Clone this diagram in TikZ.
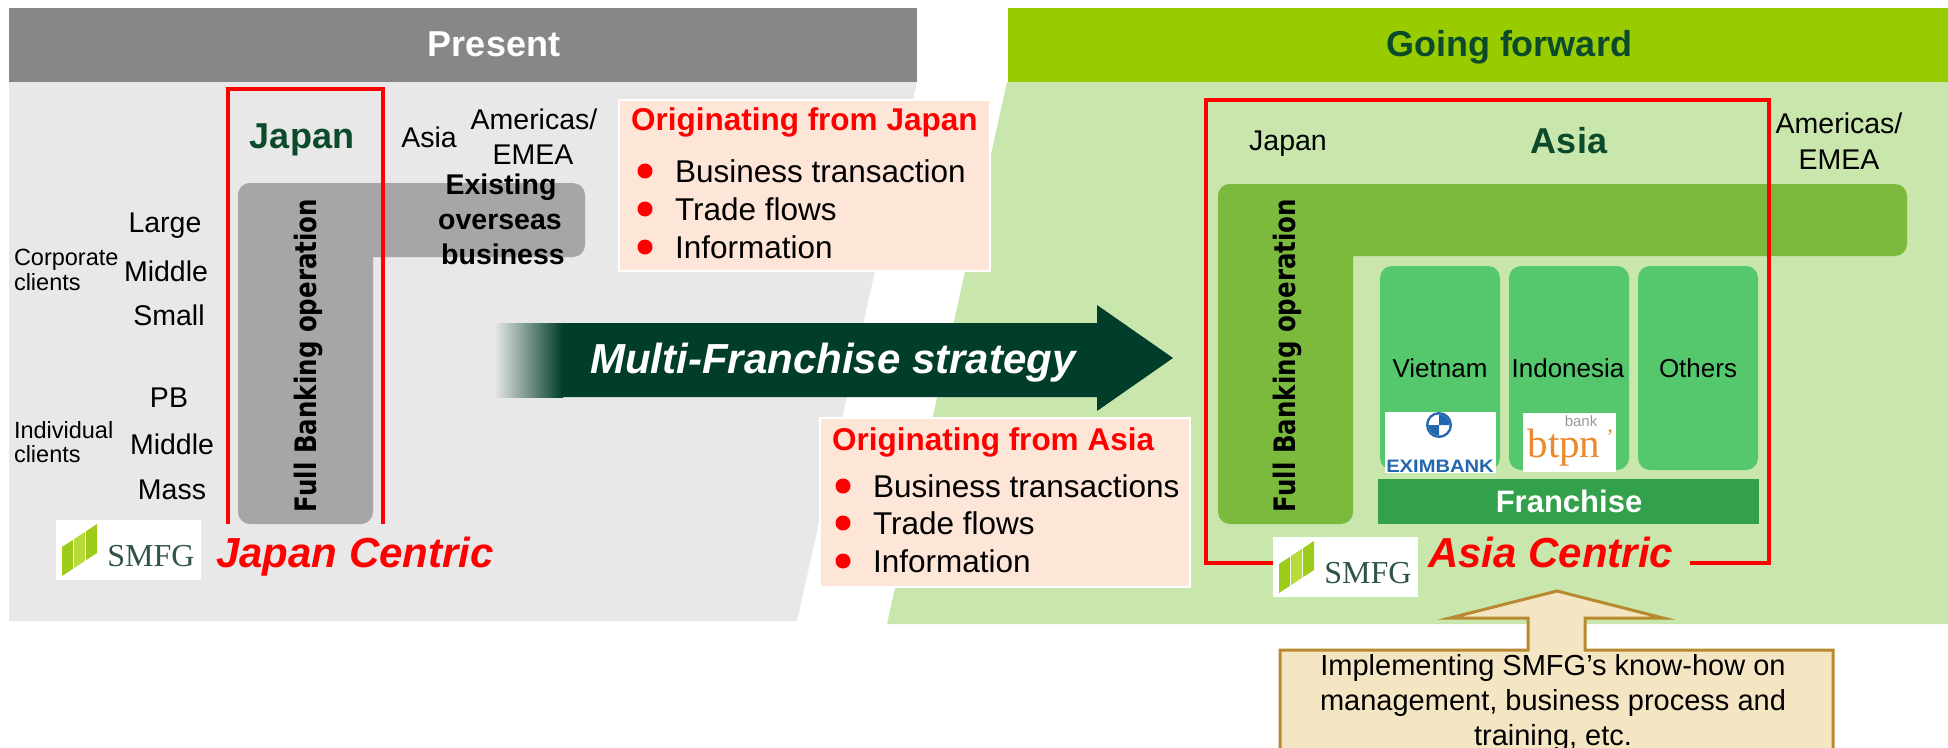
\documentclass[tikz,border=0pt]{standalone}
\usepackage{fontspec}
\setmainfont{Liberation Sans}
\newfontfamily\verdfont{DejaVu Sans}
\newfontfamily\timesfont{Liberation Serif}
\newcommand\setfs[1]{\fontsize{#1}{#1}\selectfont}
\definecolor{hdrgray}{HTML}{878787}
\definecolor{bodygray}{HTML}{E8E8E8}
\definecolor{lgray}{HTML}{A6A6A6}
\definecolor{hdrgreen}{HTML}{99CC00}
\definecolor{bodygreen}{HTML}{C9E6AD}
\definecolor{lgreen}{HTML}{7CBA3D}
\definecolor{cgreen}{HTML}{55C76C}
\definecolor{fgreen}{HTML}{33A04B}
\definecolor{dkgreen}{HTML}{003D2B}
\definecolor{txtgreen}{HTML}{0B4A2B}
\definecolor{peach}{HTML}{FDE5D7}
\definecolor{tanfill}{HTML}{F5E6C3}
\definecolor{tanborder}{HTML}{B8892E}
\definecolor{smfgA}{HTML}{9CCB19}
\definecolor{smfgB}{HTML}{B8DA3A}
\definecolor{smfgtext}{HTML}{2F5443}
\definecolor{exblue}{HTML}{2367AE}
\definecolor{btpnorange}{HTML}{E98A2E}
\newcommand\fbtxt{\resizebox{313pt}{\height}{Full Banking operation}}
\tikzset{
  every node/.style={inner sep=0pt, outer sep=0pt},
  reg/.style={font=\setfs{28.5}},
  boxtitle/.style={anchor=base west, text=red, font=\bfseries\setfs{31.5}},
  item/.style={anchor=base west, font=\setfs{31.5}},
  bul/.style={circle, fill=red, minimum size=15pt},
  peachbox/.style={draw=white, line width=2pt, fill=peach, anchor=north west},
  cbox/.style={fill=cgreen, rounded corners=12pt, anchor=north west, minimum width=120pt, minimum height=204pt},
  fbtext/.style={anchor=base west, rotate=90, font=\verdfont\bfseries\setfs{29.5}},
  centric/.style={anchor=base west, text=red, font=\bfseries\itshape\setfs{42}},
  redframe/.style={red, line width=3.5pt},
  smfglogo/.pic={
    \fill[white] (0,0) rectangle (145,60);
    \fill[smfgA] (6,27) -- (17,19.8) -- (17,48.8) -- (6,56) -- cycle;
    \fill[smfgB] (18,19.1) -- (29,11.9) -- (29,40.9) -- (18,48.1) -- cycle;
    \fill[smfgA] (30,11.2) -- (41,4) -- (41,33) -- (30,40.2) -- cycle;
    \node[anchor=base, text=smfgtext, font=\timesfont\setfs{32}] (-txt) at (95,46) {SMFG};
  }
}
\begin{document}
\begin{tikzpicture}[x=1pt,y=-1pt]
\useasboundingbox (0,0) rectangle (1948,747);
\fill[white] (0,0) rectangle (1948,747);

% ---------- panels ----------
\fill[hdrgray] (9,8) rectangle (917,82);
\fill[bodygray] (9,82) -- (917,82) -- (797,621) -- (9,621) -- cycle;
\fill[hdrgreen] (1008,8) rectangle (1948,82);
\fill[bodygreen] (1007,82) -- (1948,82) -- (1948,624) -- (887,624) -- cycle;

\node[anchor=base, text=white, font=\bfseries\setfs{36}] (present) at (494,56) {Present};
\node[anchor=base, text=txtgreen, font=\bfseries\setfs{36}] (going) at (1509,56) {Going forward};

% ---------- left: Japan centric ----------
\fill[lgray, rounded corners=12pt] (238,183) rectangle (373,524);
\fill[lgray, rounded corners=12pt] (238,183) rectangle (585,257);

\node[anchor=base, text=txtgreen, font=\bfseries\setfs{36}] (japanL) at (302,148) {Japan};
\node[anchor=base, reg] (asiaL) at (429,147) {Asia};
\node[anchor=base, reg] (amL) at (534,129) {Americas/};
\node[anchor=base, reg] (emeaL) at (533,164) {EMEA};
\node[anchor=base, font=\bfseries\setfs{28.5}] (ex1) at (501,194) {Existing};
\node[anchor=base, font=\bfseries\setfs{28.5}] (ex2) at (500,229) {overseas};
\node[anchor=base, font=\bfseries\setfs{28.5}] (ex3) at (503,264) {business};

\node[anchor=base, reg] (large) at (165,232) {Large};
\node[anchor=base, reg] (midC) at (166,281) {Middle};
\node[anchor=base, reg] (small) at (169,325) {Small};
\node[anchor=base, reg] (pb) at (169,407) {PB};
\node[anchor=base, reg] (midI) at (172,454) {Middle};
\node[anchor=base, reg] (mass) at (172,499) {Mass};
\node[anchor=base west, font=\setfs{23.5}] (corp1) at (14,265) {Corporate};
\node[anchor=base west, font=\setfs{23.5}] (corp2) at (14,290) {clients};
\node[anchor=base west, font=\setfs{23.5}] (ind1) at (14,438) {Individual};
\node[anchor=base west, font=\setfs{23.5}] (ind2) at (14,462) {clients};

\node[fbtext] (fbL) at (316.5,512) {\fbtxt};
\draw[redframe] (228,524) -- (228,89) -- (383,89) -- (383,524);

\pic (logoL) at (56,520) {smfglogo};
\node[centric] (jc) at (216,567) {Japan Centric};

% ---------- originating boxes ----------
\node[peachbox, minimum width=371pt, minimum height=171pt] (jbox) at (619,100) {};
\node[boxtitle] (jtitle) at (631,130) {Originating from Japan};
\node[bul] (jb1) at (645,171) {};
\node[bul] (jb2) at (645,209) {};
\node[bul] (jb3) at (645,247) {};
\node[item] (ji1) at (675,182) {Business transaction};
\node[item] (ji2) at (675,220) {Trade flows};
\node[item] (ji3) at (675,258) {Information};

\node[peachbox, minimum width=370pt, minimum height=169pt] (abox) at (820,418) {};
\node[boxtitle] (atitle) at (832,450) {Originating from Asia};
\node[bul] (ab1) at (843,486) {};
\node[bul] (ab2) at (843,523) {};
\node[bul] (ab3) at (843,561) {};
\node[item] (ai1) at (873,497) {Business transactions};
\node[item] (ai2) at (873,534) {Trade flows};
\node[item] (ai3) at (873,572) {Information};

% ---------- big arrow ----------
\shade[left color=bodygray, right color=dkgreen] (494,323) rectangle (563,397);
\fill[dkgreen] (562,323) -- (1097,323) -- (1097,305) -- (1173,358) -- (1097,411) -- (1097,397) -- (562,397) -- cycle;
\node[anchor=base, text=white, font=\bfseries\itshape\setfs{42}] (mfs) at (833,373) {Multi-Franchise strategy};

% ---------- right: Asia centric ----------
\fill[lgreen, rounded corners=12pt] (1218,184) rectangle (1353,524);
\fill[lgreen, rounded corners=12pt] (1218,184) rectangle (1907,256);
\node[cbox] (vn) at (1380,266) {};
\node[cbox] (id) at (1509,266) {};
\node[cbox] (ot) at (1638,266) {};
\node[fill=fgreen, anchor=north west, minimum width=381pt, minimum height=45pt] (fr) at (1378,479) {};
\node[anchor=base, text=white, font=\bfseries\setfs{31}] (frt) at (1569,512) {Franchise};

\node[anchor=base, font=\setfs{26}] (vnt) at (1440,377) {Vietnam};
\node[anchor=base, font=\setfs{26}] (idt) at (1568,377) {Indonesia};
\node[anchor=base, font=\setfs{26}] (ott) at (1698,377) {Others};

% EXIMBANK logo
\node[fill=white, anchor=north west, minimum width=111pt, minimum height=61pt] (exlogo) at (1385,412) {};
\fill[exblue] (1439,425) circle (13);
\fill[white] (1439,425) circle (10.5);
\fill[exblue] (1439,425) -- (1428.5,425) arc[start angle=180, end angle=90, radius=10.5] -- cycle;
\fill[exblue] (1439,425) -- (1449.5,425) arc[start angle=0, end angle=-90, radius=10.5] -- cycle;
\node[anchor=base, text=exblue, font=\bfseries\setfs{18}] (ext) at (1440,472) {\scalebox{1.12}[1]{EXIMBANK}};

% btpn logo
\node[fill=white, anchor=north west, minimum width=93pt, minimum height=59pt] (btlogo) at (1523,413) {};
\node[anchor=base, text=black!40, font=\setfs{15}] (btb) at (1581,426) {bank};
\node[anchor=base, text=btpnorange, font=\timesfont\setfs{41}] (btt) at (1564,457) {btpn};
\node[anchor=base, text=btpnorange, font=\timesfont\setfs{22}] (bta) at (1610,444) {’};

\node[fbtext] (fbR) at (1295.5,512) {\fbtxt};
\draw[redframe] (1273,563) -- (1206,563) -- (1206,100) -- (1769,100) -- (1769,563) -- (1690,563);

\node[anchor=base, reg] (japanR) at (1288,150) {Japan};
\node[anchor=base, text=txtgreen, font=\bfseries\setfs{36}] (asiaR) at (1569,153) {Asia};
\node[anchor=base, reg] (amR) at (1839,133) {Americas/};
\node[anchor=base, reg] (emeaR) at (1839,169) {EMEA};

\pic (logoR) at (1273,537) {smfglogo};
\node[centric] (ac) at (1428,567) {Asia Centric};

% ---------- know-how callout ----------
\draw[tanborder, line width=3pt, fill=tanfill] (1280,650) -- (1528,650) -- (1528,618) -- (1450,618) -- (1557,591) -- (1663,618) -- (1585,618) -- (1585,650) -- (1833,650) -- (1833,780) -- (1280,780) -- cycle;
\node[anchor=base, font=\setfs{29}] (kh1) at (1553,675) {Implementing SMFG’s know-how on};
\node[anchor=base, font=\setfs{29}] (kh2) at (1553,710) {management, business process and};
\node[anchor=base, font=\setfs{29}] (kh3) at (1553,745) {training, etc.};
\end{tikzpicture}
\end{document}
